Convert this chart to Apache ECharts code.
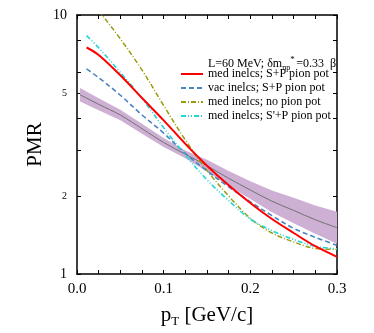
<!DOCTYPE html>
<html><head><meta charset="utf-8">
<script src="https://cdn.jsdelivr.net/npm/echarts@6/dist/echarts.min.js"></script>
<style>html,body{margin:0;padding:0;background:#fff}#c{width:374px;height:333px}</style>
</head><body><div id="c"></div>
<script>
// ---- data ----
const pT = [0.011, 0.025, 0.05, 0.075, 0.1, 0.125, 0.15, 0.175, 0.2, 0.225, 0.25, 0.275, 0.3];
const medSP      = [7.49, 7.01, 5.85, 4.78, 3.92, 3.18, 2.62, 2.20, 1.88, 1.63, 1.44, 1.28, 1.165];
const vacSP      = [6.19, 5.73, 4.90, 4.11, 3.50, 2.92, 2.50, 2.17, 1.90, 1.68, 1.50, 1.385, 1.29];
const medNoPion  = [11.95, 10.4, 8.09, 6.13, 4.47, 3.29, 2.51, 2.00, 1.64, 1.44, 1.33, 1.255, 1.245];
const medSpPP    = [8.33, 7.47, 6.00, 4.77, 3.67, 2.88, 2.31, 1.92, 1.63, 1.47, 1.36, 1.28, 1.25];
const bandPT     = [0.0035, 0.025, 0.05, 0.075, 0.1, 0.125, 0.15, 0.175, 0.2, 0.225, 0.25, 0.275, 0.3];
const bandMid    = [4.92, 4.52, 4.11, 3.64, 3.22, 2.90, 2.62, 2.34, 2.11, 1.91, 1.76, 1.62, 1.51];
const bandUpper  = [5.23, 4.77, 4.31, 3.80, 3.35, 3.00, 2.76, 2.50, 2.28, 2.10, 1.97, 1.84, 1.74];
const bandLower  = [4.63, 4.29, 3.92, 3.48, 3.09, 2.80, 2.49, 2.19, 1.95, 1.73, 1.57, 1.43, 1.31];
const xTickVals  = [0, 0.025, 0.05, 0.075, 0.1, 0.125, 0.15, 0.175, 0.2, 0.225, 0.25, 0.275, 0.3];
const xLabelVals = [0, 0.1, 0.2, 0.3];
const yTickVals  = [1, 2, 3, 4, 5, 6, 8, 10];
const yLabelVals = [1, 2, 5, 10];
const seriesNames = ['med inelcs; S+P pion pot', 'vac inelcs; S+P pion pot', 'med inelcs; no pion pot', "med inelcs; S'+P pion pot"];

const FONT = 'Liberation Serif';
const zip = (xs, ys) => xs.map((x, i) => [x, ys[i]]);

// measure pieces of the header text so sub/superscripts sit right after their base
const mctx = document.createElement('canvas').getContext('2d');
const tw = (s, size) => { mctx.font = size + 'px "' + FONT + '"'; return mctx.measureText(s).width; };
const H1 = 'L=60 MeV; δm', HSUB = 'np', HSUP = '*', H2 = ' =0.33  β';
const HS = 12, HSS = 8;
const w1 = tw(H1, HS), wSub = tw(HSUB, HSS);

const chart = echarts.init(document.getElementById('c'), null, {renderer: 'canvas'});

const frameLine = {show: true, onZero: false, lineStyle: {color: '#000', width: 1.5}};
const tick = (vals) => ({show: true, inside: true, length: 4, customValues: vals, lineStyle: {color: '#000', width: 1}});
const SM = 0.35;

const option = {
  animation: false,
  backgroundColor: '#fff',
  grid: {left: 77, top: 15, width: 260, height: 261},
  xAxis: [
    {type: 'value', min: 0, max: 0.3, interval: 0.025, position: 'bottom',
     axisLine: frameLine, axisTick: tick(xTickVals), splitLine: {show: false},
     axisLabel: {customValues: xLabelVals, margin: 8, formatter: v => v.toFixed(1),
       fontFamily: FONT, fontSize: 15, color: '#000'},
     name: '{p|p}{t|T}{p| [GeV/c]}', nameLocation: 'middle', nameGap: 29, nameMoveOverlap: false,
     nameTextStyle: {rich: {p: {fontFamily: FONT, fontSize: 21, color: '#000', lineHeight: 25},
                            t: {fontFamily: FONT, fontSize: 13, color: '#000', verticalAlign: 'bottom', lineHeight: 25}}}},
    {type: 'value', min: 0, max: 0.3, interval: 0.025, position: 'top',
     axisLine: frameLine, axisTick: tick(xTickVals), axisLabel: {show: false}, splitLine: {show: false}}
  ],
  yAxis: [
    {type: 'log', logBase: 10, min: 1, max: 10, position: 'left',
     axisLine: frameLine, axisTick: tick(yTickVals), splitLine: {show: false}, minorTick: {show: false},
     axisLabel: {customValues: yLabelVals, margin: 10,
       formatter: v => (Math.abs(v - 1) < 1e-9 || Math.abs(v - 10) < 1e-9) ? '{b|' + Math.round(v) + '}' : '{s|' + Math.round(v) + '}',
       rich: {b: {fontFamily: FONT, fontSize: 14, color: '#000'}, s: {fontFamily: FONT, fontSize: 10, color: '#000'}}},
     name: 'PMR', nameLocation: 'middle', nameGap: 31, nameRotate: 90, nameMoveOverlap: false,
     nameTextStyle: {fontFamily: FONT, fontSize: 21, color: '#000'}},
    {type: 'log', logBase: 10, min: 1, max: 10, position: 'right',
     axisLine: frameLine, axisTick: tick(yTickVals), axisLabel: {show: false}, splitLine: {show: false}}
  ],
  legend: {
    orient: 'vertical', left: 180, top: 68, padding: 0, itemGap: 2,
    itemWidth: 22, itemHeight: 11, selectedMode: false,
    data: seriesNames,
    itemStyle: {opacity: 0},
    textStyle: {fontFamily: FONT, fontSize: 12, color: '#000'}
  },
  graphic: [{
    type: 'group', left: 208, top: 55, z: 100,
    children: [
      {type: 'text', x: 0, y: 0, style: {text: H1, fontFamily: FONT, fontSize: HS, fill: '#000', verticalAlign: 'top'}},
      {type: 'text', x: w1, y: 6, style: {text: HSUB, fontFamily: FONT, fontSize: HSS, fill: '#000', verticalAlign: 'top'}},
      {type: 'text', x: w1 + wSub, y: -3, style: {text: HSUP, fontFamily: FONT, fontSize: 9, fill: '#000', verticalAlign: 'top'}},
      {type: 'text', x: w1 + wSub + 3, y: 0, style: {text: H2, fontFamily: FONT, fontSize: HS, fill: '#000', verticalAlign: 'top'}}
    ]
  }],
  series: [
    {type: 'custom', name: 'band', silent: true, z: 1, clip: true,
     data: [[bandPT[0], bandMid[0]]],
     renderItem: (params, api) => {
       const pts = [];
       for (let i = 0; i < bandPT.length; i++) pts.push(api.coord([bandPT[i], bandUpper[i]]));
       for (let i = bandPT.length - 1; i >= 0; i--) pts.push(api.coord([bandPT[i], bandLower[i]]));
       return {type: 'polygon', shape: {points: pts}, style: {fill: '#cdb0d3', stroke: null}};
     }},
    {type: 'line', name: 'band centre', data: zip(bandPT, bandMid), symbol: 'none', smooth: SM, z: 2,
     lineStyle: {color: '#727272', width: 1}},
    {type: 'line', name: seriesNames[0], data: zip(pT, medSP), symbol: 'none', smooth: SM, z: 5,
     color: '#ff0000', lineStyle: {color: '#ff0000', width: 2}},
    {type: 'line', name: seriesNames[1], data: zip(pT, vacSP), symbol: 'none', smooth: SM, z: 4,
     color: '#4a84c4', lineStyle: {color: '#4a84c4', width: 1.6, type: [5, 3]}},
    {type: 'line', name: seriesNames[2], data: zip(pT, medNoPion), symbol: 'none', smooth: SM, z: 3,
     color: '#9b9b10', lineStyle: {color: '#9b9b10', width: 1.5, type: [5, 2, 1, 2]}},
    {type: 'line', name: seriesNames[3], data: zip(pT, medSpPP), symbol: 'none', smooth: SM, z: 4,
     color: '#22d6d6', lineStyle: {color: '#22d6d6', width: 1.6, type: [5, 2, 1, 2, 1, 2]}}
  ]
};
chart.setOption(option);
</script>
</body></html>
